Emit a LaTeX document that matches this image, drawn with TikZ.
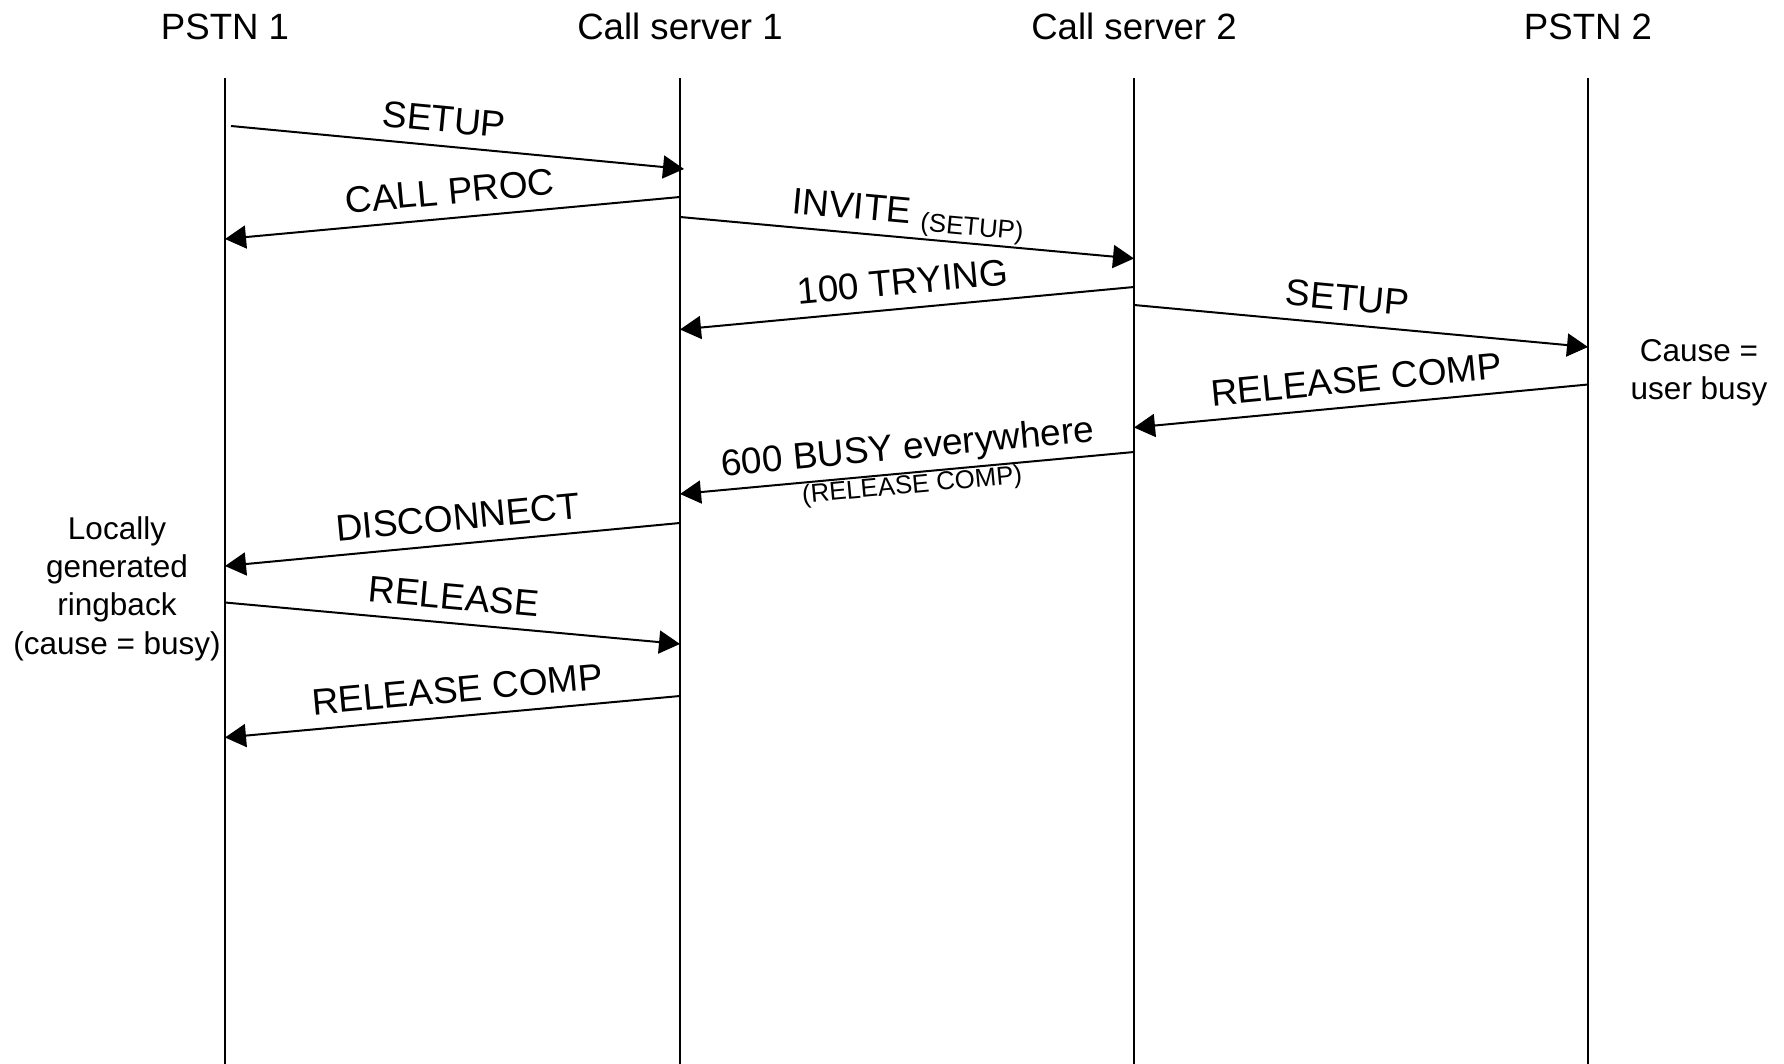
\documentclass[tikz,border=0pt]{standalone}
\usepackage{fontspec}
\setmainfont{Liberation Sans}
\usetikzlibrary{arrows.meta}
\begin{document}
\begin{tikzpicture}[x=0.5pt,y=-0.5pt,
  head/.style={font=\fontsize{18.3}{22}\selectfont, anchor=base, inner sep=0pt},
  life/.style={line width=1pt},
  msg/.style={line width=1pt, -{Triangle[length=10.5pt,width=11.5pt]}},
  lbl/.style={font=\fontsize{18.5}{22}\selectfont, sloped, inner sep=0pt, text depth=0pt, above=6.5pt},
  sublbl/.style={font=\fontsize{12.9}{15}\selectfont, sloped, inner sep=0pt, text depth=0pt, above=-10.75pt},
  note/.style={font=\fontsize{15.75}{19.15}\selectfont, align=center, anchor=base, inner sep=0pt}]
\useasboundingbox (0,0) rectangle (1784,1064);

% headers
\node[head] (h1) at (225,40) {PSTN 1};
\node[head] (h2) at (680,40) {Call server 1};
\node[head] (h3) at (1134,40) {Call server 2};
\node[head] (h4) at (1588,40) {PSTN 2};

% lifelines
\coordinate (t1) at (225,78);  \coordinate (b1) at (225,1066);
\coordinate (t2) at (680,78);  \coordinate (b2) at (680,1066);
\coordinate (t3) at (1134,78); \coordinate (b3) at (1134,1066);
\coordinate (t4) at (1588,78); \coordinate (b4) at (1588,1066);
\draw[life] (t1) -- (b1);
\draw[life] (t2) -- (b2);
\draw[life] (t3) -- (b3);
\draw[life] (t4) -- (b4);

% message end points
\coordinate (m1s) at (231,126);    \coordinate (m1e) at (684,169);
\coordinate (m2s) at (680,197);    \coordinate (m2e) at (225,239);
\coordinate (m3s) at (680,217);    \coordinate (m3e) at (1134,258.5);
\coordinate (m4s) at (1134,287);   \coordinate (m4e) at (680,329.5);
\coordinate (m5s) at (1134,305);   \coordinate (m5e) at (1588,347);
\coordinate (m6s) at (1588,384.5); \coordinate (m6e) at (1134,427.5);
\coordinate (m7s) at (1134,452);   \coordinate (m7e) at (680,494);
\coordinate (m8s) at (680,523);    \coordinate (m8e) at (225,566);
\coordinate (m9s) at (225,602.5);  \coordinate (m9e) at (680,644);
\coordinate (m10s) at (680,696);   \coordinate (m10e) at (225,737.5);

% messages
\draw[msg] (m1s) -- node[lbl, xshift=-8pt] (l1) {SETUP} (m1e);
\draw[msg] (m2s) -- node[lbl] (l2) {CALL PROC} (m2e);
\draw[msg] (m3s) -- node[lbl, xshift=-0.5pt] (l3) {INVITE \raisebox{-3pt}{\fontsize{12.9}{15}\selectfont(SETUP)}} (m3e);
\draw[msg] (m4s) -- node[lbl, xshift=-1pt] (l4) {100 TRYING} (m4e);
\draw[msg] (m5s) -- node[lbl, xshift=-8pt] (l5) {SETUP} (m5e);
\draw[msg] (m6s) -- node[lbl, xshift=-1pt] (l6) {RELEASE COMP} (m6e);
\draw[msg] (m7s) -- node[lbl, xshift=1.5pt] (l7) {600 BUSY everywhere}
                    node[sublbl, xshift=2pt] (l7b) {(RELEASE COMP)} (m7e);
\draw[msg] (m8s) -- node[lbl, xshift=4pt] (l8) {DISCONNECT} (m8e);
\draw[msg] (m9s) -- node[lbl, xshift=-0.5pt] (l9) {RELEASE} (m9e);
\draw[msg] (m10s) -- node[lbl, xshift=3.75pt] (l10) {RELEASE COMP} (m10e);

% notes (anchor base = baseline of the last line)
\node[note] (n1) at (1699,399.3) {Cause =\\user busy};
\node[note] (n2) at (117,654.2) {Locally\\generated\\ringback\\(cause = busy)};
\end{tikzpicture}
\end{document}
